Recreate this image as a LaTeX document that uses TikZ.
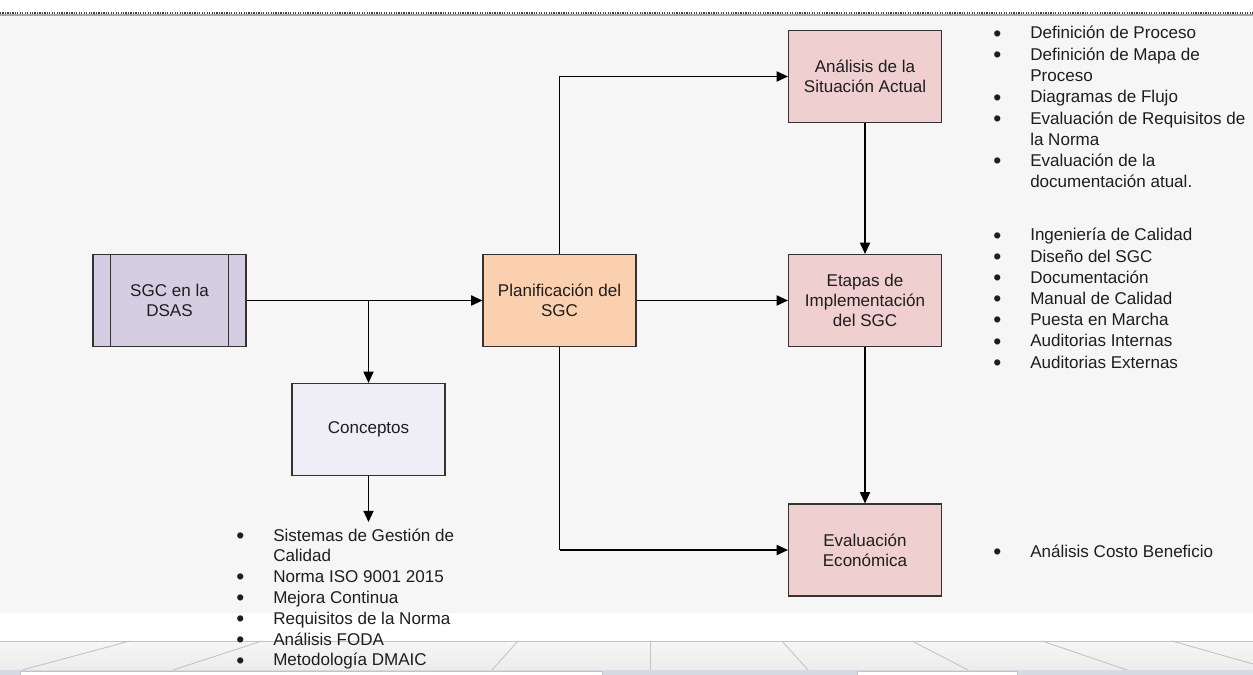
\documentclass[tikz,border=0pt]{standalone}
\usepackage{fontspec}
\setmainfont{Liberation Sans}
\usetikzlibrary{arrows.meta}

\definecolor{canvasgrey}{RGB}{246,246,246}
\definecolor{inkgrey}{RGB}{30,30,30}
\definecolor{edgegrey}{RGB}{51,51,51}
\definecolor{sgcfill}{RGB}{213,205,226}
\definecolor{conceptfill}{RGB}{239,237,245}
\definecolor{planfill}{RGB}{251,208,174}
\definecolor{stagefill}{RGB}{239,207,207}
\definecolor{barline}{RGB}{195,195,195}
\definecolor{bartop}{RGB}{246,246,246}
\definecolor{barbottom}{RGB}{236,236,236}
\definecolor{stripblue}{RGB}{214,219,227}

\tikzset{
  blockbox/.style={draw=edgegrey, line width=0.7pt, minimum width=3.06cm,
    minimum height=1.84cm, align=center, text=inkgrey, inner sep=2pt,
    font=\fontsize{9.7}{11.6}\selectfont},
  flow/.style={draw=black, line width=0.7pt, -{Triangle[length=6.4pt,width=5.8pt]}},
  plainflow/.style={draw=black, line width=0.7pt},
  bulletlist/.style={anchor=base west, inner sep=0pt, text=inkgrey},
  uiline/.style={draw=barline, line width=0.5pt}
}

% list bullet, a little heavier than the text-size one
\newcommand{\bl}{\raisebox{-0.25ex}{\fontsize{13}{13}\selectfont\textbullet}}

\begin{document}
\begin{tikzpicture}[x=0.02cm, y=-0.02cm]
\useasboundingbox (0,0) rectangle (1253,675);

% page and canvas
\fill[white] (0,0) rectangle (1253,675);
\fill[canvasgrey] (0,15) rectangle (1253,613);

% ruler edge along the top
\draw[black!35, line width=0.6pt] (0,15) -- (1253,15);
\draw[black!75, line width=1.1pt, dash pattern=on 0.7pt off 0.7pt] (0,13) -- (1253,13);

% sheet bar at the bottom
\shade[top color=bartop, bottom color=barbottom] (0,641) rectangle (1253,670);
\draw[uiline] (0,641) -- (1253,641);
\draw[uiline] (22,670) -- (130,641);
\draw[uiline] (173,670) -- (262,641);
\draw[uiline] (492,670) -- (518,641);
\draw[uiline] (650,641) -- (650,670);
\draw[uiline] (782,641) -- (808,670);
\draw[uiline] (912,641) -- (968,670);
\draw[uiline] (1042,641) -- (1127,670);
\draw[uiline] (1172,641) -- (1253,664);
\fill[stripblue] (0,670) rectangle (1253,675);
\fill[white] (20,671.5) rectangle (602,675);
\draw[barline, line width=0.4pt] (20,675) -- (20,671.5) -- (602,671.5) -- (602,675);
\fill[white] (857,671.5) rectangle (1017,675);
\draw[barline, line width=0.4pt] (857,675) -- (857,671.5) -- (1017,671.5) -- (1017,675);

% blocks
\node[blockbox, fill=sgcfill] (sgc) at (169.5,300.5) {SGC en la\\DSAS};
\draw[edgegrey, line width=0.7pt] ([xshift=0.36cm]sgc.north west) -- ([xshift=0.36cm]sgc.south west);
\draw[edgegrey, line width=0.7pt] ([xshift=-0.36cm]sgc.north east) -- ([xshift=-0.36cm]sgc.south east);
\node[blockbox, fill=conceptfill] (conceptos) at (368.5,429.5) {Conceptos};
\node[blockbox, fill=planfill] (plan) at (559.5,300.5) {Planificación del\\SGC};
\node[blockbox, fill=stagefill] (analisis) at (865,76.5) {Análisis de la\\Situación Actual};
\node[blockbox, fill=stagefill] (etapas) at (865,300.5) {Etapas de\\Implementación\\del SGC};
\node[blockbox, fill=stagefill] (economica) at (865,550) {Evaluación\\Económica};

% connectors
\coordinate (split) at (conceptos.north |- sgc.east);
\coordinate (listtop) at (368.5,522);
\coordinate (upturn) at (plan.north |- analisis.west);
\coordinate (downturn) at (plan.south |- economica.west);

\path[flow] (sgc.east) -- (plan.west);
\path[flow] (split) -- (conceptos.north);
\path[flow] (conceptos.south) -- (listtop);
\path[plainflow] (plan.north) -- (upturn);
\path[flow] (upturn) -- (analisis.west);
\path[flow] (plan.east) -- (etapas.west);
\path[plainflow] (plan.south) -- (downturn);
\path[flow] (downturn) -- (economica.west);
\path[flow] (analisis.south) -- (etapas.north);
\path[flow] (etapas.south) -- (economica.north);

% bullet lists
\node[bulletlist] (listanalisis) at (993,39) {\fontsize{9.7}{12.1}\selectfont
  \begin{tabular}[t]{@{}p{21pt}@{}l@{}}
  \bl & Definición de Proceso\\
  \bl & Definición de Mapa de\\
      & Proceso\\
  \bl & Diagramas de Flujo\\
  \bl & Evaluación de Requisitos de\\
      & la Norma\\
  \bl & Evaluación de la\\
      & documentación atual.
  \end{tabular}};

\node[bulletlist] (listetapas) at (993,241) {\fontsize{9.7}{12.05}\selectfont
  \begin{tabular}[t]{@{}p{21pt}@{}l@{}}
  \bl & Ingeniería de Calidad\\
  \bl & Diseño del SGC\\
  \bl & Documentación\\
  \bl & Manual de Calidad\\
  \bl & Puesta en Marcha\\
  \bl & Auditorias Internas\\
  \bl & Auditorias Externas
  \end{tabular}};

\node[bulletlist] (listeconomica) at (993,557) {\fontsize{9.7}{12.1}\selectfont
  \begin{tabular}[t]{@{}p{21pt}@{}l@{}}
  \bl & Análisis Costo Beneficio
  \end{tabular}};

\node[bulletlist] (listconceptos) at (236,541) {\fontsize{9.7}{11.85}\selectfont
  \begin{tabular}[t]{@{}p{21pt}@{}l@{}}
  \bl & Sistemas de Gestión de\\
      & Calidad\\
  \bl & Norma ISO 9001 2015\\
  \bl & Mejora Continua\\
  \bl & Requisitos de la Norma\\
  \bl & Análisis FODA\\
  \bl & Metodología DMAIC
  \end{tabular}};
\end{tikzpicture}
\end{document}
